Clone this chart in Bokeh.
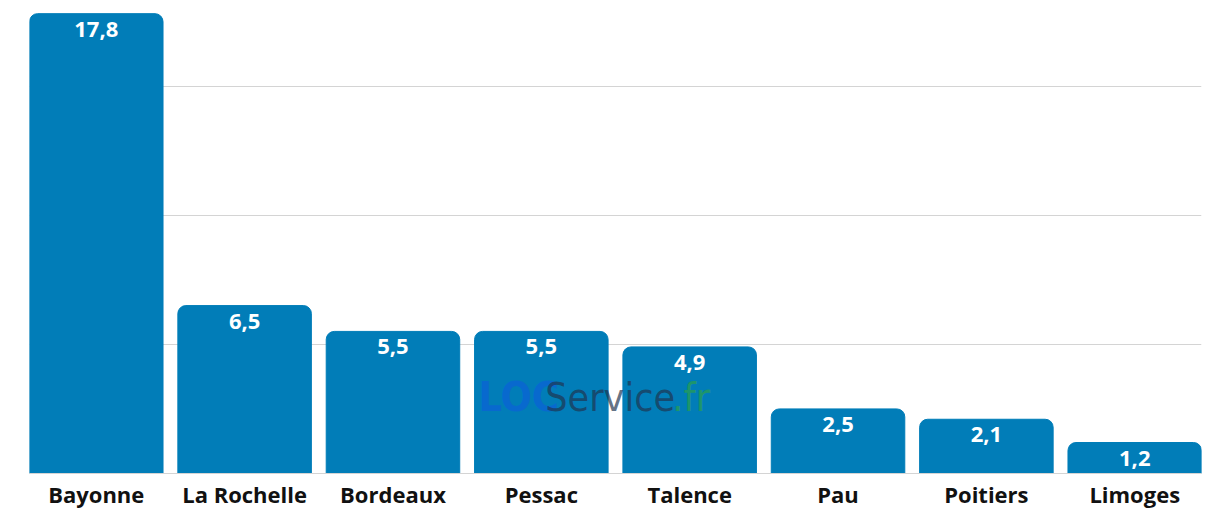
from bokeh.plotting import figure
from bokeh.models import ColumnDataSource, Label
from bokeh.embed import file_html
from bokeh.resources import INLINE
from bokeh.core.properties import value

cities = ["Bayonne", "La Rochelle", "Bordeaux", "Pessac", "Talence", "Pau", "Poitiers", "Limoges"]
values = [17.8, 6.5, 5.5, 5.5, 4.9, 2.5, 2.1, 1.2]
labels = ["17,8", "6,5", "5,5", "5,5", "4,9", "2,5", "2,1", "1,2"]

src = ColumnDataSource(dict(city=cities, val=values, lab=labels))

p = figure(x_range=cities, y_range=(0, 18), width=1209, height=518,
           output_backend="svg", toolbar_location=None,
           min_border_left=29, min_border_right=8, min_border_top=8, min_border_bottom=45)

p.x_range.range_padding = -0.05
p.x_range.range_padding_units = "absolute"
p.x_range.factor_padding = 0

p.vbar(x="city", top="val", width=0.9, source=src, color="#017db8",
       border_radius=(8, 8, 0, 0))

FONT = "Open Sans"
p.text(x="city", y="val", text="lab", source=src, y_offset=8,
       text_align="center", text_baseline="top", text_color="white",
       text_font=value(FONT), text_font_style="bold", text_font_size="22px")

# watermark
wm_font = "DejaVu Sans Condensed"
p.add_layout(Label(x=3.076, y=2.95, text="LOC", text_font=wm_font, text_font_style="bold",
                   text_font_size="41px", text_color="#0b63d6", text_alpha=0.75,
                   text_baseline="alphabetic"))
p.add_layout(Label(x=3.527, y=2.95, text="Service", text_font=wm_font,
                   text_font_size="39px", text_color="#1f3550", text_alpha=0.7,
                   text_baseline="alphabetic"))
p.add_layout(Label(x=4.383, y=2.95, text=".fr", text_font=wm_font,
                   text_font_size="39px", text_color="#2aa04a", text_alpha=0.7,
                   text_baseline="alphabetic"))

p.xgrid.grid_line_color = None
p.ygrid.grid_line_color = "#d4d4d4"
p.ygrid.ticker = [5, 10, 15]
p.yaxis.visible = False
p.outline_line_color = None

p.xaxis.axis_line_color = "#d4d4d4"
p.xaxis.major_tick_line_color = None
p.xaxis.minor_tick_line_color = None
p.xaxis.major_label_text_font = FONT
p.xaxis.major_label_text_font_style = "bold"
p.xaxis.major_label_text_font_size = "22px"
p.xaxis.major_label_text_color = "#111111"
p.xaxis.major_label_standoff = -1

open("out.html", "w").write(file_html(p, INLINE))
